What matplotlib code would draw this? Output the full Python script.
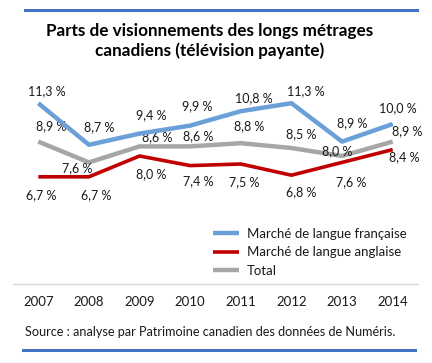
import matplotlib
matplotlib.use("Agg")
import matplotlib.pyplot as plt
from matplotlib.lines import Line2D

plt.rcParams["font.family"] = ["Lato", "DejaVu Sans"]

years = [2007, 2008, 2009, 2010, 2011, 2012, 2013, 2014]
francais = [11.3, 8.7, 9.4, 9.9, 10.8, 11.3, 8.9, 10.0]
anglais = [6.7, 6.7, 8.0, 7.4, 7.5, 6.8, 7.6, 8.4]
total = [8.9, 7.6, 8.6, 8.6, 8.8, 8.5, 8.0, 8.9]

# label offsets in pixels (dx, dy upward)
off_fr = [(8, 12), (10, 18), (12, 18), (7, 19), (13, 13), (14, 12), (10, 18), (5, 16)]
off_tot = [(13, 15), (-12, -6), (18, 9), (8, 10), (8, 17), (10, 14), (-5, 5), (14, 10)]
off_ang = [(3, -18), (7, -18), (12, -18), (8, -16), (3, -18), (10, -17), (9, -20), (12, -8)]

c_fr = "#6a9fd8"
c_ang = "#c00000"
c_tot = "#a6a6a6"
c_txt = "#1a1a1a"

W, H = 432, 363
fig = plt.figure(figsize=(W / 100, H / 100), dpi=100)
ax = fig.add_axes([13 / W, 1 - 284 / H, 405 / W, 224 / H])

ax.plot(years, total, color=c_tot, lw=3.2, label="Total", solid_capstyle="butt", zorder=2)
ax.plot(years, anglais, color=c_ang, lw=2.6, label="Marché de langue anglaise", solid_capstyle="butt", zorder=3)
ax.plot(years, francais, color=c_fr, lw=3.2, label="Marché de langue française", solid_capstyle="butt", zorder=4)


def fmt(v):
    return f"{v:.1f}".replace(".", ",") + "\u00a0%"


for vals, offs in [(francais, off_fr), (total, off_tot), (anglais, off_ang)]:
    for x, v, (dx, dy) in zip(years, vals, offs):
        ax.annotate(fmt(v), (x, v), textcoords="offset pixels", xytext=(dx, dy),
                    ha="center", va="center", fontsize=9, color=c_txt)

ax.set_xlim(2006.5, 2014.5)
ax.set_ylim(0, 14)
ax.set_xticks(years)
ax.set_xticklabels([str(y) for y in years], fontsize=9.5, color=c_txt)
ax.tick_params(axis="x", length=0, pad=9)
ax.set_yticks([])
for s in ["top", "left", "right"]:
    ax.spines[s].set_visible(False)
ax.spines["bottom"].set_color("#d9d9d9")
ax.spines["bottom"].set_linewidth(1)

h, l = ax.get_legend_handles_labels()
order = [2, 1, 0]
fig.legend([h[i] for i in order], [l[i] for i in order], loc="upper left",
           bbox_to_anchor=(201 / W, 1 - 216 / H), frameon=False, fontsize=9.5,
           handlelength=2.0, labelspacing=0.5, handletextpad=0.6, labelcolor=c_txt)

fig.text(210 / W, 1 - 41 / H, "Parts de visionnements des longs métrages\ncanadiens (télévision payante)",
         ha="center", va="center", fontsize=12.3, fontweight="bold", color="#000000", linespacing=1.3)
fig.text(25 / W, 1 - 332 / H, "Source : analyse par Patrimoine canadien des données de Numéris.",
         ha="left", va="center", fontsize=9.1, color=c_txt)

fig.add_artist(Line2D([25 / W, 417 / W], [1 - 10 / H] * 2, transform=fig.transFigure,
                      color="#4472c4", lw=2.2))
fig.add_artist(Line2D([23 / W, 415 / W], [1 - 350 / H] * 2, transform=fig.transFigure,
                      color="#4472c4", lw=2.2))

fig.savefig("out.png", dpi=100)
